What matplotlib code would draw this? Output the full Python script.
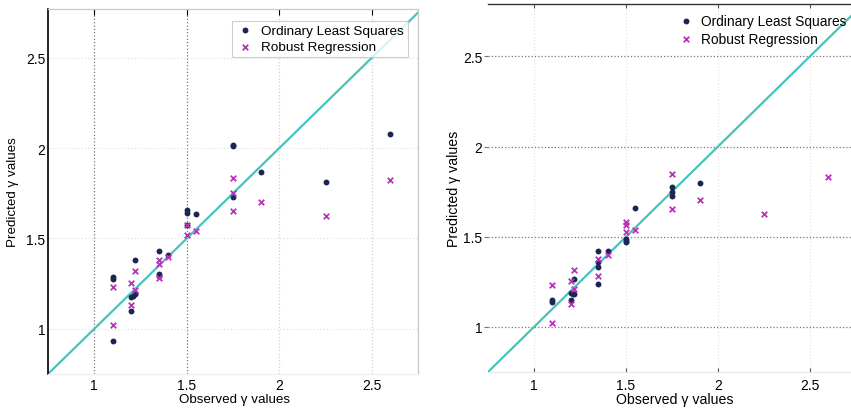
import matplotlib
matplotlib.use('Agg')
import matplotlib.pyplot as plt

plt.rcParams['font.family'] = ['Liberation Sans', 'DejaVu Sans']

# ---- data -------------------------------------------------------------
left_ols_x = [1.75, 1.75, 1.9, 2.25, 2.6, 1.75, 1.5, 1.5, 1.55, 1.5, 1.35, 1.4,
              1.22, 1.35, 1.35, 1.1, 1.1, 1.2, 1.22, 1.21, 1.22, 1.2, 1.1]
left_ols_y = [2.02, 2.01, 1.87, 1.81, 2.08, 1.73, 1.655, 1.64, 1.635, 1.575, 1.43, 1.41,
              1.38, 1.305, 1.29, 1.285, 1.275, 1.175, 1.19, 1.18, 1.20, 1.10, 0.935]
left_rob_x = [1.75, 1.75, 1.9, 2.6, 2.25, 1.75, 1.5, 1.5, 1.55, 1.35, 1.35, 1.4,
              1.22, 1.2, 1.1, 1.35, 1.22, 1.2, 1.1]
left_rob_y = [1.835, 1.75, 1.70, 1.825, 1.625, 1.65, 1.575, 1.52, 1.54, 1.38, 1.36, 1.40,
              1.32, 1.255, 1.233, 1.28, 1.215, 1.133, 1.02]

right_ols_x = [1.75, 1.75, 1.75, 1.9, 1.55, 1.5, 1.5, 1.5, 1.35, 1.4, 1.35, 1.35,
               1.35, 1.22, 1.2, 1.22, 1.2, 1.1, 1.1, 1.21]
right_ols_y = [1.775, 1.75, 1.725, 1.80, 1.66, 1.49, 1.478, 1.468, 1.418, 1.418, 1.36, 1.33,
               1.24, 1.264, 1.19, 1.18, 1.148, 1.15, 1.14, 1.185]
right_rob_x = [1.75, 1.9, 2.6, 2.25, 1.75, 1.5, 1.5, 1.5, 1.55, 1.35, 1.35, 1.4,
               1.22, 1.2, 1.22, 1.2, 1.1, 1.1]
right_rob_y = [1.846, 1.705, 1.83, 1.628, 1.652, 1.579, 1.565, 1.524, 1.538, 1.377, 1.282, 1.40,
               1.317, 1.253, 1.212, 1.126, 1.23, 1.02]

ticks = [1, 1.5, 2, 2.5]
tick_labels = ['1', '1.5', '2', '2.5']
diag = [0.75, 2.8]

OLS_C = '#1c2554'
ROB_C = '#b833b8'
LINE_C = '#45c4bb'

fig = plt.figure(figsize=(8.51, 4.10), dpi=100)
fig.patch.set_facecolor('white')

ax1 = fig.add_axes([48/851, 1-375/410, 370/851, 365/410])
ax2 = fig.add_axes([488/851, 1-373/410, 368/851, 368/410])


def draw(ax, ox, oy, rx, ry, fs):
    ax.plot(diag, diag, color=LINE_C, lw=1.6, zorder=2)
    ax.scatter(ox, oy, s=18, color=OLS_C, marker='o', lw=0, zorder=3,
               label='Ordinary Least Squares')
    ax.scatter(rx, ry, s=16, color=ROB_C, marker='x', lw=1.3, zorder=3,
               label='Robust Regression')
    ax.set_xlim(0.75, 2.75)
    ax.set_xticks(ticks)
    ax.set_xticklabels(tick_labels)
    ax.set_yticks(ticks)
    ax.set_yticklabels(tick_labels)
    ax.set_xlabel('Observed γ values', fontsize=fs)
    ax.set_ylabel('Predicted γ values', fontsize=fs)
    ax.tick_params(labelsize=10)


# ── LEFT PANEL ─────────────────────────────────────────────────────────
draw(ax1, left_ols_x, left_ols_y, left_rob_x, left_rob_y, 9.6)
ax1.set_ylim(0.75, 2.77)
for s in ['top', 'right', 'bottom']:
    ax1.spines[s].set_color('#c8c8c8')
    ax1.spines[s].set_linewidth(0.9)
ax1.spines['bottom'].set_color('#eeeeee')
ax1.spines['left'].set_color('black')
ax1.spines['left'].set_linewidth(1.2)
ax1.xaxis.grid(True, ls=':', color='#777777', lw=0.9)
ax1.yaxis.grid(True, ls=':', color='#e4e4e4', lw=0.9)
for gl in ax1.get_xgridlines()[2:]:
    gl.set_color('#d0d0d0')
ax1.set_axisbelow(True)
ax1.tick_params(axis='x', top=True, bottom=False, direction='in', length=4,
                color='black', pad=3)
ax1.tick_params(axis='y', length=0, pad=2)
ax1.xaxis.set_label_coords(0.505, -0.052)
ax1.yaxis.set_label_coords(-0.078, 0.5)
leg1 = ax1.legend(loc='upper right', bbox_to_anchor=(0.99, 0.985), frameon=True,
                  fancybox=False, edgecolor='#c0c0c0', fontsize=9.7,
                  handletextpad=0.6, borderpad=0.25, labelspacing=0.3,
                  handlelength=1.3, scatterpoints=1)
leg1.get_frame().set_linewidth(0.8)

# ── RIGHT PANEL ────────────────────────────────────────────────────────
draw(ax2, right_ols_x, right_ols_y, right_rob_x, right_rob_y, 10.2)
ax2.set_ylim(0.75, 2.79)
ax2.spines['left'].set_visible(False)
ax2.spines['right'].set_visible(False)
ax2.spines['top'].set_color('#333333')
ax2.spines['top'].set_linewidth(1.0)
ax2.spines['bottom'].set_color('#e8e8e8')
ax2.yaxis.grid(True, ls=':', color='#777777', lw=0.9)
ax2.xaxis.grid(True, ls=':', color='#e4e4e4', lw=0.9)
ax2.set_axisbelow(True)
ax2.tick_params(axis='x', top=True, bottom=True, direction='in', length=3,
                color='#555555', pad=4)
ax2.tick_params(axis='y', direction='out', length=3, color='#777777', pad=1)
ax2.xaxis.set_label_coords(0.508, -0.054)
ax2.yaxis.set_label_coords(-0.073, 0.5)
ax2.legend(loc='upper left', bbox_to_anchor=(0.49, 1.0), frameon=False,
           fontsize=9.9, handletextpad=0.5, borderpad=0.2, labelspacing=0.3,
           handlelength=1.2, scatterpoints=1)

plt.savefig('out.png', dpi=100, facecolor='white')
plt.close()
print('Saved out.png')
